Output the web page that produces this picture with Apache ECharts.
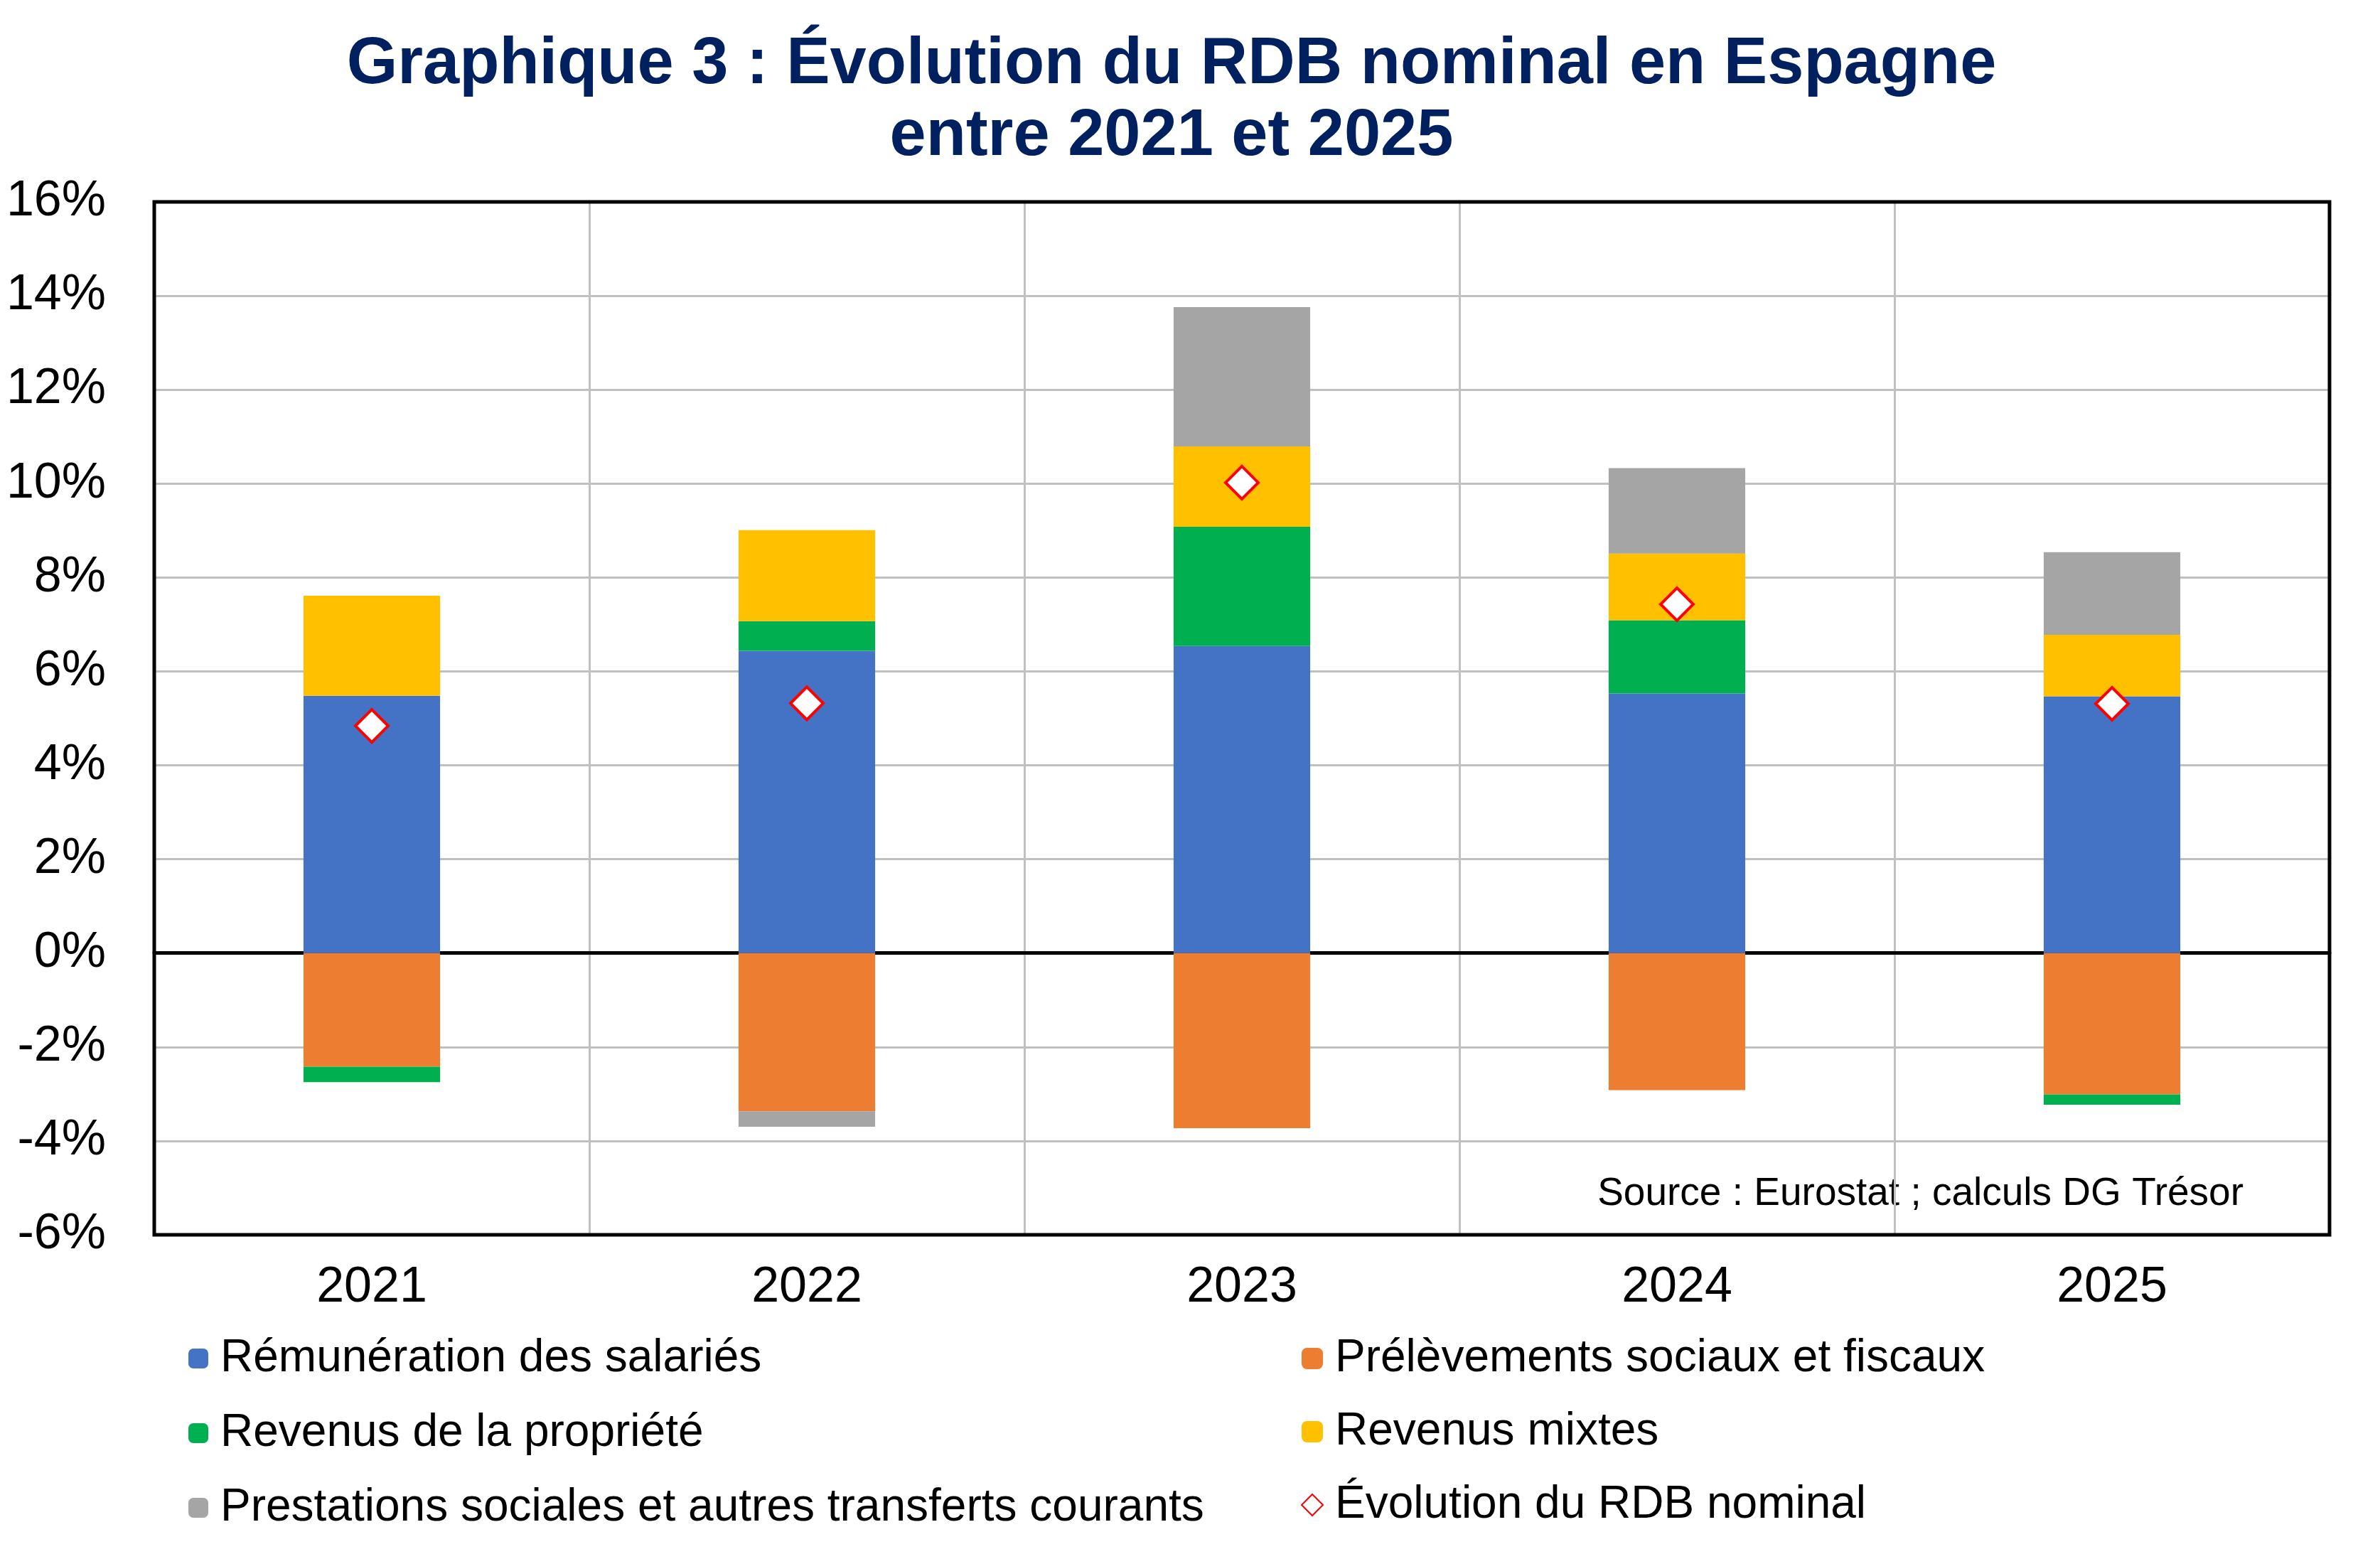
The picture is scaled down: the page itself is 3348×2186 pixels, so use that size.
<!DOCTYPE html>
<html lang="fr">
<head>
<meta charset="utf-8">
<title>Graphique 3 : Évolution du RDB nominal en Espagne</title>
<script src="https://cdn.jsdelivr.net/npm/echarts@6/dist/echarts.min.js"></script>
<style>
  html, body { margin: 0; padding: 0; background: #fff; }
  #chart { width: 3348px; height: 2186px; }
</style>
</head>
<body>
<div id="chart"></div>
<script>
// données (en %)
const years = ['2021', '2022', '2023', '2024', '2025']
const remuneration = [5.48, 6.44, 6.54, 5.53, 5.47]
const prelevements = [-2.42, -3.37, -3.73, -2.92, -3.01]
const revenusPropriete = [-0.33, 0.63, 2.54, 1.56, -0.22]
const revenusMixtes = [2.13, 1.94, 1.71, 1.42, 1.31]
const prestations = [0, -0.33, 2.97, 1.82, 1.76]
const rdbNominal = [4.84, 5.32, 10.02, 7.43, 5.31]

const font = "'Liberation Sans', Arial, sans-serif"

// zone de tracé (px)
const plot = { left: 217, top: 284, right: 71, bottom: 449 }
const W = 3348, H = 2186

const barSeries = (name, data, color) => ({
  name: name,
  type: 'bar',
  stack: 'rdb',
  barWidth: '31.4%',
  data: data,
  itemStyle: { color: color }
})

const legendText = { fontFamily: font, fontSize: 64, lineHeight: 64, color: '#000', padding: [0, 0, 0, 12] }

const chart = echarts.init(document.getElementById('chart'))

const option = {
  animation: false,
  backgroundColor: '#fff',
  textStyle: { fontFamily: font },
  title: {
    text: 'Graphique 3 : Évolution du RDB nominal en Espagne\nentre 2021 et 2025',
    left: 1648,
    top: 41,
    padding: 0,
    textAlign: 'center',
    textStyle: {
      fontFamily: font,
      fontSize: 92,
      fontWeight: 'bold',
      lineHeight: 101,
      color: '#002060'
    }
  },
  grid: {
    left: plot.left,
    right: plot.right,
    top: plot.top,
    bottom: plot.bottom
  },
  legend: [
    {
      orient: 'vertical',
      left: 265,
      top: 1879,
      padding: 0,
      itemWidth: 28,
      itemHeight: 28,
      itemGap: 41,
      data: ['Rémunération des salariés', 'Revenus de la propriété', 'Prestations sociales et autres transferts courants'],
      textStyle: legendText
    },
    {
      orient: 'vertical',
      left: 1830,
      top: 1879,
      padding: 0,
      itemWidth: 30,
      itemHeight: 30,
      itemGap: 39,
      data: ['Prélèvements sociaux et fiscaux', 'Revenus mixtes', 'Évolution du RDB nominal'],
      textStyle: legendText
    }
  ],
  xAxis: [
    {
      type: 'category',
      data: years,
      position: 'bottom',
      axisLine: { show: false, onZero: false },
      axisTick: { show: false },
      axisLabel: { fontSize: 70, color: '#000', margin: 40, fontFamily: font },
      splitLine: { show: true, lineStyle: { color: '#c0c0c0', width: 3 } }
    },
    {
      // ligne du zéro
      type: 'category',
      data: years,
      position: 'bottom',
      axisLine: { show: true, onZero: true, lineStyle: { color: '#000', width: 5 } },
      axisTick: { show: false },
      axisLabel: { show: false },
      splitLine: { show: false }
    }
  ],
  yAxis: {
    type: 'value',
    min: -6,
    max: 16,
    interval: 2,
    axisLine: { show: false },
    axisTick: { show: false },
    axisLabel: { formatter: '{value}%', fontSize: 70, color: '#000', margin: 68, fontFamily: font },
    splitLine: { show: true, lineStyle: { color: '#c0c0c0', width: 3 } }
  },
  graphic: [
    {
      // cadre noir autour de la zone de tracé
      type: 'rect',
      z: 100,
      shape: {
        x: plot.left,
        y: plot.top,
        width: W - plot.left - plot.right,
        height: H - plot.top - plot.bottom
      },
      style: { fill: 'none', stroke: '#000', lineWidth: 5 }
    },
    {
      type: 'text',
      x: 3156,
      y: 1680,
      style: {
        text: 'Source : Eurostat ; calculs DG Trésor',
        font: '55px ' + font,
        fill: '#000',
        textAlign: 'right',
        textVerticalAlign: 'middle'
      }
    }
  ],
  series: [
    barSeries('Rémunération des salariés', remuneration, '#4472C4'),
    barSeries('Prélèvements sociaux et fiscaux', prelevements, '#ED7D31'),
    barSeries('Revenus de la propriété', revenusPropriete, '#00B050'),
    barSeries('Revenus mixtes', revenusMixtes, '#FFC000'),
    barSeries('Prestations sociales et autres transferts courants', prestations, '#A5A5A5'),
    {
      name: 'Évolution du RDB nominal',
      type: 'scatter',
      data: rdbNominal,
      symbol: 'diamond',
      symbolSize: 46,
      z: 10,
      itemStyle: { color: '#fff', borderColor: '#FF0000', borderWidth: 4, opacity: 1 }
    }
  ]
}

chart.setOption(option)
</script>
</body>
</html>
